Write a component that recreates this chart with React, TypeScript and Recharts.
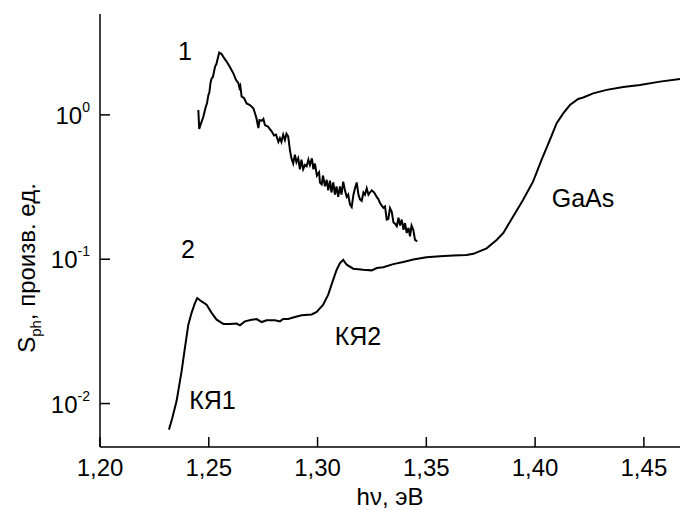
import { LineChart, Line, XAxis, YAxis, ReferenceDot } from "recharts";

// curve 1: photoresponse spectrum (upper, noisy)
const energy1 = [
  1.2452, 1.2456, 1.2464, 1.2475, 1.2485, 1.2492, 1.2498, 1.2503, 1.2508, 1.2513,
  1.2519, 1.2529, 1.2535, 1.2548, 1.2559, 1.257, 1.2582, 1.2597, 1.2613, 1.2625,
  1.2636, 1.2641, 1.2645, 1.2651, 1.2662, 1.2674, 1.2689, 1.2705, 1.2712, 1.2719,
  1.2728, 1.2733, 1.2743, 1.2751, 1.2758, 1.2772, 1.2789, 1.28, 1.2809, 1.282,
  1.2827, 1.2834, 1.2842, 1.285, 1.2857, 1.2865, 1.2873, 1.288, 1.2888, 1.2896,
  1.2903, 1.2911, 1.2919, 1.2926, 1.2934, 1.2942, 1.295, 1.2958, 1.2965, 1.2974,
  1.2981, 1.2988, 1.2997, 1.3007, 1.3011, 1.3019, 1.3025, 1.3034, 1.3042, 1.3049,
  1.3057, 1.3064, 1.3072, 1.308, 1.3087, 1.3095, 1.3103, 1.311, 1.3118, 1.3126,
  1.3134, 1.3141, 1.3149, 1.3157, 1.3165, 1.3172, 1.318, 1.3188, 1.3195, 1.3203,
  1.3211, 1.3218, 1.3226, 1.3234, 1.3241, 1.3249, 1.326, 1.3272, 1.328, 1.3287,
  1.3296, 1.3303, 1.331, 1.3318, 1.3325, 1.3333, 1.3341, 1.3349, 1.3356, 1.3364,
  1.3372, 1.3379, 1.3387, 1.3395, 1.3402, 1.341, 1.3418, 1.3425, 1.3432, 1.344,
  1.3448, 1.3458,
];
const signal1 = [
  1.08, 0.8, 0.87, 0.97, 1.12, 1.21, 1.37, 1.44, 1.67, 1.79,
  1.83, 2.16, 2.25, 2.7, 2.64, 2.48, 2.34, 2.15, 1.94, 1.75,
  1.66, 1.54, 1.59, 1.34, 1.31, 1.2, 1.17, 1.11, 1.03, 0.95,
  0.81, 0.92, 0.91, 0.94, 0.85, 0.83, 0.77, 0.72, 0.73, 0.65,
  0.69, 0.65, 0.73, 0.67, 0.74, 0.71, 0.57, 0.5, 0.46, 0.53,
  0.47, 0.5, 0.42, 0.49, 0.42, 0.45, 0.44, 0.49, 0.45, 0.5,
  0.42, 0.46, 0.38, 0.4, 0.34, 0.33, 0.38, 0.32, 0.355, 0.3,
  0.35, 0.29, 0.34, 0.28, 0.32, 0.27, 0.32, 0.28, 0.345, 0.3,
  0.27, 0.28, 0.24, 0.23, 0.28, 0.31, 0.34, 0.28, 0.26, 0.254,
  0.29, 0.28, 0.31, 0.28, 0.29, 0.3, 0.29, 0.27, 0.26, 0.245,
  0.234, 0.227, 0.232, 0.188, 0.19, 0.226, 0.213, 0.18, 0.176, 0.169,
  0.194, 0.171, 0.188, 0.16, 0.178, 0.152, 0.165, 0.144, 0.171, 0.16,
  0.136, 0.133,
];

// curve 2: lower spectrum with QW1, QW2 and GaAs edges
const energy2 = [
  1.2317, 1.2332, 1.2352, 1.2375, 1.2388, 1.2406, 1.2421, 1.2435, 1.2447, 1.2467,
  1.249, 1.2513, 1.2536, 1.2567, 1.2597, 1.2628, 1.2643, 1.2666, 1.2697, 1.272,
  1.2743, 1.2766, 1.2804, 1.2827, 1.2842, 1.2865, 1.2896, 1.2927, 1.2973, 1.2996,
  1.3026, 1.3049, 1.3072, 1.3088, 1.3103, 1.3118, 1.3134, 1.3164, 1.321, 1.3249,
  1.3272, 1.3302, 1.3348, 1.3394, 1.344, 1.3501, 1.3563, 1.3624, 1.3685, 1.3716,
  1.3777, 1.3823, 1.3854, 1.3899, 1.3945, 1.3991, 1.403, 1.4068, 1.4099, 1.413,
  1.416, 1.4198, 1.4221, 1.4267, 1.4329, 1.4405, 1.4482, 1.4574, 1.4666,
];
const signal2 = [
  0.0066, 0.0079, 0.0104, 0.0167, 0.023, 0.0352, 0.0425, 0.049, 0.0538, 0.051,
  0.0484, 0.0425, 0.0381, 0.0356, 0.0356, 0.0358, 0.0348, 0.0371, 0.0381, 0.0385,
  0.0367, 0.0377, 0.0378, 0.0371, 0.0386, 0.0385, 0.0398, 0.0409, 0.0414, 0.0431,
  0.0484, 0.0568, 0.0722, 0.0846, 0.094, 0.099, 0.0916, 0.086, 0.0846, 0.0837,
  0.0869, 0.088, 0.0925, 0.0958, 0.0996, 0.103, 0.105, 0.106, 0.107, 0.109,
  0.119, 0.136, 0.152, 0.198, 0.258, 0.346, 0.489, 0.671, 0.876, 1.027,
  1.17, 1.29, 1.32, 1.41, 1.49, 1.56, 1.61, 1.7, 1.77,
];

const xTicks = [1.2, 1.25, 1.3, 1.35, 1.4, 1.45];
const yTicks = [0.01, 0.1, 1];

// text annotations, placed in data coordinates
const noteText = ["1", "2", "КЯ1", "КЯ2", "GaAs"];
const noteX = [1.2391, 1.2404, 1.2517, 1.3186, 1.422];
const noteY = [2.77, 0.118, 0.0105, 0.0291, 0.267];

const curve1 = energy1.map((e, i) => ({ e, s: signal1[i] }));
const curve2 = energy2.map((e, i) => ({ e, s: signal2[i] }));

const font = "'Liberation Sans', Arial, sans-serif";
const fontSize = 24;

// ticks point inward, so draw the tick mark together with the label
function XTick({ x, y, payload }: any) {
  return (
    <g>
      <line x1={x} x2={x} y1={y} y2={y - 10} stroke="#000" strokeWidth={1.5} />
      <text x={x} y={y + 29} textAnchor="middle" fontFamily={font} fontSize={fontSize} fill="#000">
        {payload.value.toFixed(2).replace(".", ",")}
      </text>
    </g>
  );
}

function YTick({ x, y, payload }: any) {
  const exp = Math.round(Math.log10(payload.value));
  return (
    <g>
      <line x1={x} x2={x + 10} y1={y} y2={y} stroke="#000" strokeWidth={1.5} />
      <text x={x - 10} y={y + 9} textAnchor="end" fontFamily={font} fontSize={fontSize} fill="#000">
        10
        <tspan dy={-12} fontSize={14}>
          {String(exp)}
        </tspan>
      </text>
    </g>
  );
}

function YLabel() {
  return (
    <text
      transform="rotate(-90, 35, 268)"
      x={35}
      y={268}
      textAnchor="middle"
      fontFamily={font}
      fontSize={fontSize}
      fill="#000"
    >
      S
      <tspan dy={6} fontSize={15}>ph</tspan>
      <tspan dy={-6}>, произв. ед.</tspan>
    </text>
  );
}

export default function App() {
  return (
    <div style={{ position: "absolute", left: 0, top: 0, width: 680, height: 510, background: "#fff" }}>
      <LineChart
        width={680}
        height={510}
        margin={{ top: 14, right: 0, bottom: 0, left: 0 }}
        style={{ fontFamily: font }}
      >
        <XAxis
          type="number"
          dataKey="e"
          domain={[1.2, 1.4666]}
          allowDataOverflow
          ticks={xTicks}
          height={63}
          tickLine={false}
          tickSize={0}
          tickMargin={0}
          tick={<XTick />}
          stroke="#000"
          strokeWidth={1.5}
          label={{
            value: "hν, эВ",
            position: "insideBottom",
            offset: 5,
            fontSize,
            fill: "#000",
            fontFamily: font,
          }}
        />
        <YAxis
          type="number"
          scale="log"
          domain={[0.005, 5]}
          allowDataOverflow
          ticks={yTicks}
          width={100}
          tickLine={false}
          tickSize={0}
          tickMargin={0}
          tick={<YTick />}
          stroke="#000"
          strokeWidth={1.5}
          label={{ content: <YLabel /> }}
        />
        <Line
          data={curve1}
          dataKey="s"
          type="linear"
          dot={false}
          stroke="#000"
          strokeWidth={2}
          isAnimationActive={false}
        />
        <Line
          data={curve2}
          dataKey="s"
          type="linear"
          dot={false}
          stroke="#000"
          strokeWidth={2}
          isAnimationActive={false}
        />
        {noteText.map((t, i) => (
          <ReferenceDot
            key={t}
            x={noteX[i]}
            y={noteY[i]}
            r={0}
            fill="none"
            stroke="none"
            label={{ value: t, position: "center", fontSize: 25, fill: "#000", fontFamily: font }}
          />
        ))}
      </LineChart>
    </div>
  );
}
